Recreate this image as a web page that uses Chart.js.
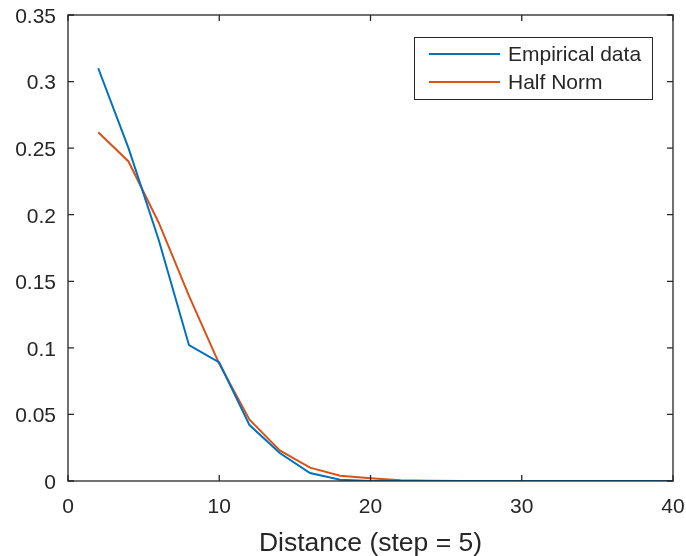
<!DOCTYPE html>
<html>
<head>
<meta charset="utf-8">
<script src="https://cdn.jsdelivr.net/npm/chart.js@4.4.1/dist/chart.umd.min.js"></script>
<style>
  html, body { margin: 0; padding: 0; background: #fff; }
  canvas { display: block; }
</style>
</head>
<body>
<canvas id="distChart" width="686" height="556"></canvas>
<script>
const distances = [2, 4, 6, 8, 10, 12, 14, 16, 18, 20, 22, 24, 26, 28, 30, 32, 34, 36, 38, 40];
const empirical = [0.310, 0.250, 0.181, 0.102, 0.089, 0.042, 0.021, 0.006, 0.001, 0, 0, 0, 0, 0, 0, 0, 0, 0, 0, 0];
const halfNorm = [0.262, 0.240, 0.194, 0.139, 0.088, 0.046, 0.023, 0.010, 0.004, 0.002, 0.0005, 0.0002, 0, 0, 0, 0, 0, 0, 0, 0];
const xTicks = [0, 10, 20, 30, 40];
const yTicks = [0, 0.05, 0.1, 0.15, 0.2, 0.25, 0.3, 0.35];
const yTickLabels = ["0", "0.05", "0.1", "0.15", "0.2", "0.25", "0.3", "0.35"];
const seriesNames = ["Empirical data", "Half Norm"];
const seriesColors = ["#0072BD", "#D95319"];

const axisColor = "#262626";
const fontFamily = "'Liberation Sans', Arial, sans-serif";

function toPoints(ys) {
  return distances.map((d, i) => ({ x: d, y: ys[i] }));
}

// matlab-ish box with ticks pointing inward on all four sides
const boxPlugin = {
  id: "boxPlugin",
  afterDatasetsDraw(chart) {
    const { ctx, chartArea: a, scales } = chart;
    const len = 6;
    ctx.save();
    ctx.strokeStyle = axisColor;
    ctx.lineWidth = 1.3;
    ctx.strokeRect(a.left, a.top, a.right - a.left, a.bottom - a.top);
    ctx.beginPath();
    xTicks.forEach(v => {
      const px = scales.x.getPixelForValue(v);
      ctx.moveTo(px, a.bottom); ctx.lineTo(px, a.bottom - len);
      ctx.moveTo(px, a.top); ctx.lineTo(px, a.top + len);
    });
    yTicks.forEach(v => {
      const py = scales.y.getPixelForValue(v);
      ctx.moveTo(a.left, py); ctx.lineTo(a.left + len, py);
      ctx.moveTo(a.right, py); ctx.lineTo(a.right - len, py);
    });
    ctx.stroke();
    ctx.restore();
  }
};

// legend box drawn inside the axes, top right
const legendPlugin = {
  id: "legendPlugin",
  afterDraw(chart) {
    const { ctx, chartArea: a } = chart;
    const boxW = 238, boxH = 62;
    const x0 = a.right - 21 - boxW;
    const y0 = a.top + 22;
    ctx.save();
    ctx.fillStyle = "#fff";
    ctx.fillRect(x0, y0, boxW, boxH);
    ctx.strokeStyle = axisColor;
    ctx.lineWidth = 1;
    ctx.strokeRect(x0 + 0.5, y0 + 0.5, boxW, boxH);
    ctx.font = "21px " + fontFamily;
    ctx.textBaseline = "middle";
    chart.data.datasets.forEach((ds, i) => {
      const y = y0 + 17 + i * 28;
      ctx.strokeStyle = ds.borderColor;
      ctx.lineWidth = 2;
      ctx.beginPath();
      ctx.moveTo(x0 + 15, y);
      ctx.lineTo(x0 + 86, y);
      ctx.stroke();
      ctx.fillStyle = axisColor;
      ctx.fillText(ds.label, x0 + 94, y + 1);
    });
    ctx.restore();
  }
};

function noPad(s) {
  s.paddingTop = 0;
  s.paddingBottom = 0;
  s.paddingLeft = 0;
  s.paddingRight = 0;
}

new Chart(document.getElementById("distChart"), {
  type: "line",
  data: {
    datasets: [
      {
        label: seriesNames[0],
        data: toPoints(empirical),
        borderColor: seriesColors[0],
        borderWidth: 2,
        pointRadius: 0,
        tension: 0,
        fill: false
      },
      {
        label: seriesNames[1],
        data: toPoints(halfNorm),
        borderColor: seriesColors[1],
        borderWidth: 2,
        pointRadius: 0,
        tension: 0,
        fill: false
      }
    ]
  },
  options: {
    responsive: false,
    animation: false,
    layout: { padding: { top: 15, right: 13, left: 0, bottom: 0 } },
    plugins: {
      legend: { display: false },
      tooltip: { enabled: false }
    },
    scales: {
      x: {
        type: "linear",
        min: 0,
        max: 40,
        afterBuildTicks: s => { s.ticks = xTicks.map(v => ({ value: v })); },
        afterFit: s => { s.height = 75; noPad(s); },
        grid: { display: false, drawTicks: false },
        border: { display: false },
        ticks: {
          color: axisColor,
          padding: 14,
          maxRotation: 0,
          font: { family: fontFamily, size: 21 }
        },
        title: {
          display: true,
          text: "Distance (step = 5)",
          color: axisColor,
          padding: { top: 0, bottom: 1.5 },
          font: { family: fontFamily, size: 26.5, lineHeight: 0.8 }
        }
      },
      y: {
        min: 0,
        max: 0.35,
        afterBuildTicks: s => { s.ticks = yTicks.map(v => ({ value: v })); },
        afterFit: s => { s.width = 68; noPad(s); },
        grid: { display: false, drawTicks: false },
        border: { display: false },
        ticks: {
          color: axisColor,
          padding: 12,
          labelOffset: 2,
          font: { family: fontFamily, size: 21 },
          callback: v => yTickLabels[yTicks.findIndex(t => Math.abs(t - v) < 1e-9)]
        }
      }
    }
  },
  plugins: [boxPlugin, legendPlugin]
});
</script>
</body>
</html>
